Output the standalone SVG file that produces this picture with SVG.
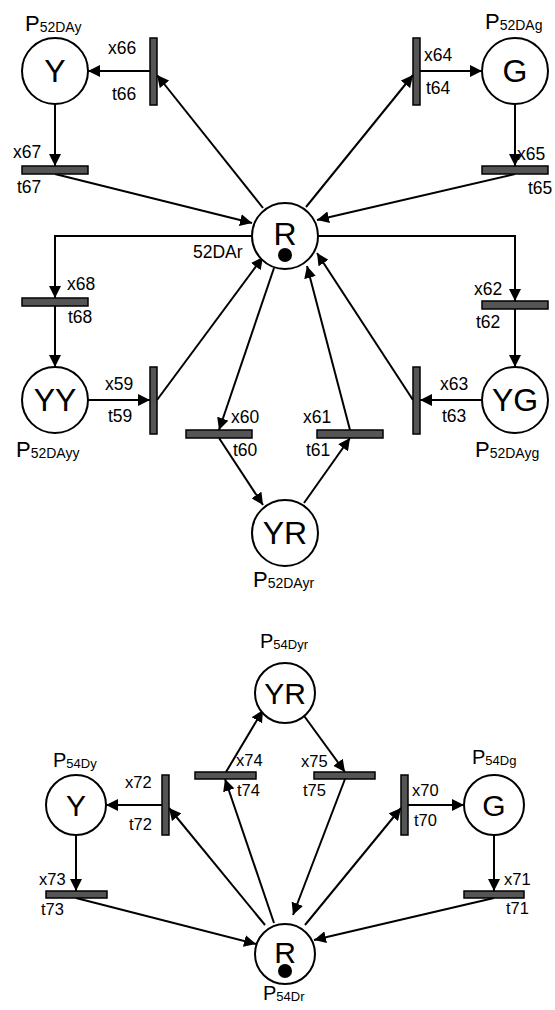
<svg xmlns="http://www.w3.org/2000/svg" width="555" height="1010" viewBox="0 0 555 1010">
<defs>
<marker id="ah" markerUnits="userSpaceOnUse" markerWidth="12" markerHeight="12" refX="12" refY="6" orient="auto">
<path d="M0,0 L12,6 L0,12 z" fill="#000"/>
</marker>
</defs>
<style>
text{font-family:"Liberation Sans",Arial,sans-serif;fill:#000}
.pl circle{fill:#fff;stroke:#000;stroke-width:2}
.pl circle.tok{fill:#000;stroke:none}
.bar{fill:#555;stroke:#000;stroke-width:1.5}
.big{font-size:32px;text-anchor:middle}
.big2{font-size:30px;text-anchor:middle}
.lb{font-size:17.5px}
.lb2{font-size:16.5px}
.pn{font-size:22px}
.pn2{font-size:20px}
#conn path{fill:none;stroke:#000;stroke-width:2;marker-end:url(#ah)}
</style>
<rect width="555" height="1010" fill="#fff"/>
<g id="conn">
<path d="M150,71 L88,71"/>
<path d="M420,71 L482,71"/>
<path d="M55,104 L55,166"/>
<path d="M515,104 L515,166"/>
<path d="M55,174 L252,223"/>
<path d="M515,174 L317,220"/>
<path d="M263,208 L157,75"/>
<path d="M306,207 L413,75"/>
<path d="M252,236 L55,236 L55,298"/>
<path d="M318,236 L515,236 L515,301"/>
<path d="M55,306 L55,367"/>
<path d="M515,309 L515,367"/>
<path d="M88,400 L150,400"/>
<path d="M482,400 L420,400"/>
<path d="M157,400 L263,257"/>
<path d="M413,400 L317,253"/>
<path d="M274,268 L219,430"/>
<path d="M350,430 L307,266"/>
<path d="M219,438 L263,505"/>
<path d="M304,503 L350,438"/>
<path d="M162,805 L106,805"/>
<path d="M408,805 L464,805"/>
<path d="M76,835 L76,891"/>
<path d="M494,835 L494,891"/>
<path d="M76,898 L256,944"/>
<path d="M494,898 L314,940"/>
<path d="M265,925 L169,808"/>
<path d="M274,923 L225,779"/>
<path d="M226,772 L263,710"/>
<path d="M302,713 L345,772"/>
<path d="M345,779 L293,915"/>
<path d="M305,925 L401,808"/>
</g>
<g id="P52DAy" class="pl"><circle cx="55" cy="71" r="33"/><text class="big" x="55" y="82">Y</text><text class="pn" x="25" y="31">P<tspan font-size="14" dy="1">52DAy</tspan></text></g>
<g id="P52DAg" class="pl"><circle cx="515" cy="71" r="33"/><text class="big" x="515" y="82">G</text><text class="pn" x="485" y="29">P<tspan font-size="14" dy="1">52DAg</tspan></text></g>
<g id="P52DAr" class="pl"><circle cx="285" cy="236" r="33"/><text class="big" x="285" y="245">R</text><circle class="tok" cx="285" cy="255" r="7"/><text class="lb" x="193" y="258">52DAr</text></g>
<g id="P52DAyy" class="pl"><circle cx="55" cy="400" r="33"/><text class="big" x="55" y="411">YY</text><text class="pn" x="16" y="457">P<tspan font-size="14" dy="1">52DAyy</tspan></text></g>
<g id="P52DAyg" class="pl"><circle cx="515" cy="400" r="33"/><text class="big" x="515" y="411">YG</text><text class="pn" x="475" y="457">P<tspan font-size="14" dy="1">52DAyg</tspan></text></g>
<g id="P52DAyr" class="pl"><circle cx="285" cy="533" r="33"/><text class="big" x="285" y="544">YR</text><text class="pn" x="253" y="587">P<tspan font-size="14" dy="1">52DAyr</tspan></text></g>
<g id="t66"><rect class="bar" x="150" y="38" width="7" height="67"/><text class="lb" x="108" y="54">x66</text><text class="lb" x="112" y="100">t66</text></g>
<g id="t64"><rect class="bar" x="413" y="38" width="7" height="67"/><text class="lb" x="424" y="61">x64</text><text class="lb" x="426" y="94">t64</text></g>
<g id="t67"><rect class="bar" x="22" y="166" width="66" height="8"/><text class="lb" x="13" y="158">x67</text><text class="lb" x="17" y="193">t67</text></g>
<g id="t65"><rect class="bar" x="482" y="166" width="66" height="8"/><text class="lb" x="517" y="160">x65</text><text class="lb" x="528" y="194">t65</text></g>
<g id="t68"><rect class="bar" x="22" y="298" width="66" height="8"/><text class="lb" x="67" y="290">x68</text><text class="lb" x="68" y="323">t68</text></g>
<g id="t62"><rect class="bar" x="482" y="301" width="66" height="8"/><text class="lb" x="474" y="295">x62</text><text class="lb" x="476" y="328">t62</text></g>
<g id="t59"><rect class="bar" x="150" y="367" width="7" height="67"/><text class="lb" x="105" y="390">x59</text><text class="lb" x="108" y="422">t59</text></g>
<g id="t63"><rect class="bar" x="413" y="367" width="7" height="67"/><text class="lb" x="440" y="390">x63</text><text class="lb" x="442" y="422">t63</text></g>
<g id="t60"><rect class="bar" x="186" y="430" width="66" height="8"/><text class="lb" x="231" y="423">x60</text><text class="lb" x="233" y="456">t60</text></g>
<g id="t61"><rect class="bar" x="317" y="430" width="66" height="8"/><text class="lb" x="303" y="423">x61</text><text class="lb" x="306" y="456">t61</text></g>
<g id="P54Dyr" class="pl"><circle cx="285" cy="693" r="30"/><text class="big2" x="285" y="704">YR</text><text class="pn2" x="260" y="648">P<tspan font-size="13" dy="1">54Dyr</tspan></text></g>
<g id="P54Dy" class="pl"><circle cx="76" cy="805" r="30"/><text class="big2" x="76" y="816">Y</text><text class="pn2" x="53" y="767">P<tspan font-size="13" dy="1">54Dy</tspan></text></g>
<g id="P54Dg" class="pl"><circle cx="494" cy="805" r="30"/><text class="big2" x="494" y="816">G</text><text class="pn2" x="472" y="764">P<tspan font-size="13" dy="1">54Dg</tspan></text></g>
<g id="P54Dr" class="pl"><circle cx="285" cy="954" r="30"/><text class="big2" x="285" y="963">R</text><circle class="tok" cx="285" cy="971" r="7"/><text class="pn2" x="263" y="1000">P<tspan font-size="13" dy="1">54Dr</tspan></text></g>
<g id="t72"><rect class="bar" x="162" y="775" width="7" height="60"/><text class="lb2" x="125" y="788">x72</text><text class="lb2" x="129" y="830">t72</text></g>
<g id="t70"><rect class="bar" x="401" y="775" width="7" height="60"/><text class="lb2" x="412" y="796">x70</text><text class="lb2" x="414" y="826">t70</text></g>
<g id="t74"><rect class="bar" x="195" y="772" width="61" height="7"/><text class="lb2" x="236" y="766">x74</text><text class="lb2" x="237" y="796">t74</text></g>
<g id="t75"><rect class="bar" x="314" y="772" width="61" height="7"/><text class="lb2" x="301" y="767">x75</text><text class="lb2" x="303" y="796">t75</text></g>
<g id="t73"><rect class="bar" x="46" y="891" width="61" height="7"/><text class="lb2" x="39" y="885">x73</text><text class="lb2" x="41" y="915">t73</text></g>
<g id="t71"><rect class="bar" x="464" y="891" width="60" height="7"/><text class="lb2" x="504" y="885">x71</text><text class="lb2" x="506" y="914">t71</text></g>
</svg>
